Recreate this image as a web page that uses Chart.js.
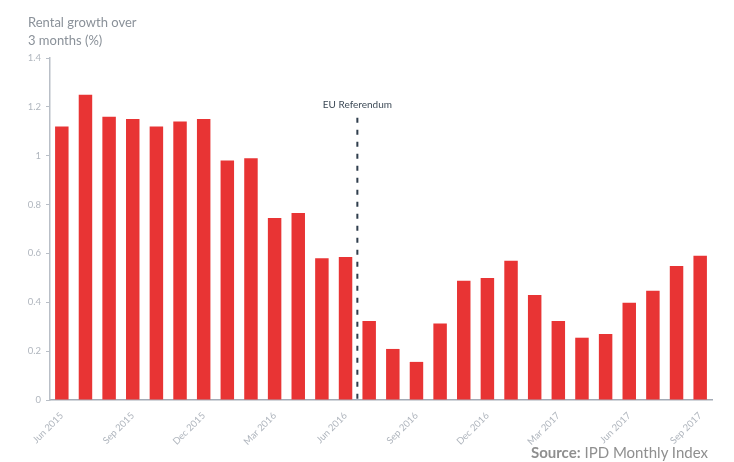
<!DOCTYPE html>
<html>
<head>
<meta charset="utf-8">
<script src="https://cdn.jsdelivr.net/npm/chart.js@4.4.1/dist/chart.umd.min.js"></script>
<style>
  body { margin: 0; background: #fff; font-family: Lato, "Open Sans", sans-serif; }
  .wrap { position: relative; width: 734px; height: 462px; }
  .ytitle { position: absolute; left: 28px; top: 13px; font-size: 13px; line-height: 18px; color: #8a9199; }
  .source { position: absolute; right: 26px; top: 443px; font-size: 15px; color: #8f8f8f; }
  .source b { font-weight: 700; }
</style>
</head>
<body>
<div class="wrap">
  <canvas id="chart"></canvas>
  <div class="ytitle">Rental growth over<br>3 months (%)</div>
  <div class="source"><b>Source:</b> IPD Monthly Index</div>
</div>
<script>
// 월별 라벨 (Jun 2015 ~ Sep 2017)
const months = [
  'Jun 2015', 'Jul 2015', 'Aug 2015', 'Sep 2015', 'Oct 2015', 'Nov 2015', 'Dec 2015',
  'Jan 2016', 'Feb 2016', 'Mar 2016', 'Apr 2016', 'May 2016', 'Jun 2016', 'Jul 2016',
  'Aug 2016', 'Sep 2016', 'Oct 2016', 'Nov 2016', 'Dec 2016', 'Jan 2017', 'Feb 2017',
  'Mar 2017', 'Apr 2017', 'May 2017', 'Jun 2017', 'Jul 2017', 'Aug 2017', 'Sep 2017'
];

// 3개월 임대료 상승률 (%)
const growth = [
  1.12, 1.25, 1.16, 1.15, 1.12, 1.14, 1.15,
  0.98, 0.99, 0.745, 0.765, 0.58, 0.585, 0.323,
  0.209, 0.156, 0.313, 0.488, 0.499, 0.57, 0.43,
  0.323, 0.255, 0.27, 0.398, 0.447, 0.549, 0.59
];

// EU 국민투표 표시 (Jun 2016 과 Jul 2016 사이)
const refLabel = 'EU Referendum';
const refAfter = 'Jun 2016';
const refTopValue = 1.155;

const referendumLine = {
  id: 'referendumLine',
  afterDatasetsDraw(chart) {
    const { ctx, scales: { x, y } } = chart;
    const i = months.indexOf(refAfter);
    const px = (x.getPixelForValue(i) + x.getPixelForValue(i + 1)) / 2;
    ctx.save();
    ctx.strokeStyle = '#2f3d4c';
    ctx.lineWidth = 2;
    ctx.setLineDash([5, 7]);
    ctx.beginPath();
    ctx.moveTo(px, y.getPixelForValue(refTopValue));
    ctx.lineTo(px, y.getPixelForValue(0));
    ctx.stroke();
    ctx.setLineDash([]);
    ctx.fillStyle = '#3d4a57';
    ctx.font = '10px Lato, "Open Sans", sans-serif';
    ctx.textAlign = 'center';
    ctx.textBaseline = 'middle';
    ctx.fillText(refLabel, px, y.getPixelForValue(refTopValue) - 13);
    ctx.restore();
  }
};

const axisColor = '#b9bfc7';
const tickColor = '#b0b6be';

new Chart(document.getElementById('chart').getContext('2d'), {
  type: 'bar',
  data: {
    labels: months,
    datasets: [{
      data: growth,
      backgroundColor: '#e83434',
      borderWidth: 0,
      barPercentage: 0.57,
      categoryPercentage: 1
    }]
  },
  options: {
    responsive: true,
    maintainAspectRatio: false,
    animation: false,
    layout: { padding: { top: 58, right: 22, left: 0, bottom: 0 } },
    plugins: { legend: { display: false }, tooltip: { enabled: false } },
    scales: {
      x: {
        grid: { display: false },
        border: { display: true, color: '#a3abb6', width: 1.5 },
        ticks: {
          autoSkip: false,
          minRotation: 45,
          maxRotation: 45,
          padding: 2,
          color: tickColor,
          font: { family: 'Lato', size: 9.5 },
          callback: (v, i) => (i % 3 === 0 ? months[i] : '')
        },
        afterFit: s => { s.height = 62; }
      },
      y: {
        min: 0,
        max: 1.4,
        grid: { drawOnChartArea: false, drawTicks: true, tickLength: 4, color: axisColor },
        border: { display: true, color: axisColor, width: 1.5 },
        ticks: {
          stepSize: 0.2,
          padding: 5,
          color: tickColor,
          font: { family: 'Lato', size: 9.5 },
          callback: v => String(+v.toFixed(1))
        },
        afterFit: s => { s.width = 50; }
      }
    }
  },
  plugins: [referendumLine]
});
</script>
</body>
</html>
